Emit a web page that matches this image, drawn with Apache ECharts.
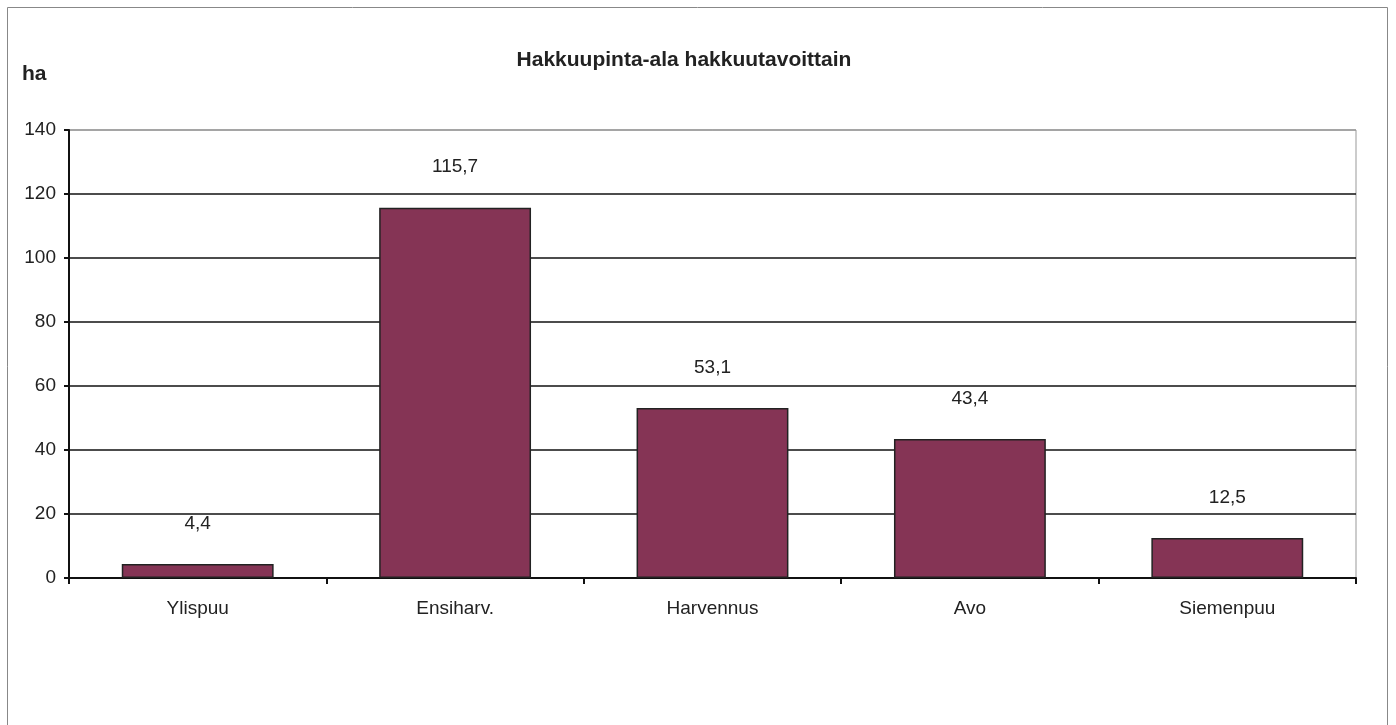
<!DOCTYPE html>
<html>
<head>
<meta charset="utf-8">
<script src="https://cdn.jsdelivr.net/npm/echarts@6/dist/echarts.min.js"></script>
<style>
  html, body { margin: 0; padding: 0; background: #fff; }
  #chart { width: 1396px; height: 725px; }
</style>
</head>
<body>
<div id="chart"></div>
<script>
// data
var categories = ['Ylispuu', 'Ensiharv.', 'Harvennus', 'Avo', 'Siemenpuu']
var values = [4.4, 115.7, 53.1, 43.4, 12.5]
var yTicks = { min: 0, max: 140, interval: 20 }

var myChart = echarts.init(document.getElementById('chart'))

var font = 'Liberation Sans, Arial, sans-serif'

var option = {
  animation: false,
  backgroundColor: '#fff',
  title: {
    text: 'Hakkuupinta-ala hakkuutavoittain',
    left: 679,
    textAlign: 'center',
    top: 45,
    textStyle: { fontFamily: font, fontSize: 21, fontWeight: 'bold', color: '#222' }
  },
  graphic: [
    {
      type: 'rect',
      shape: { x: 7.5, y: 7.5, width: 1380, height: 740 },
      style: { fill: 'none', stroke: '#888', lineWidth: 1 },
      silent: true
    },
    {
      type: 'text',
      left: 22,
      top: 64,
      style: { text: 'ha', font: 'bold 21px ' + font, fill: '#222' }
    }
  ],
  grid: {
    left: 69,
    right: 40,
    top: 130,
    bottom: 147,
    show: true,
    borderColor: '#999',
    borderWidth: 1
  },
  xAxis: {
    type: 'category',
    data: categories,
    axisLine: { lineStyle: { color: '#111', width: 2 } },
    axisTick: { show: true, length: 6, lineStyle: { color: '#111', width: 2 } },
    axisLabel: { fontFamily: font, fontSize: 19, color: '#222', margin: 21 }
  },
  yAxis: {
    type: 'value',
    min: yTicks.min,
    max: yTicks.max,
    interval: yTicks.interval,
    axisLine: { show: true, lineStyle: { color: '#111', width: 2 } },
    axisTick: { show: true, length: 5, lineStyle: { color: '#111', width: 2 } },
    axisLabel: { fontFamily: font, fontSize: 19, color: '#222', margin: 13 },
    splitLine: {
      show: true,
      lineStyle: {
        color: ['#111', '#111', '#111', '#111', '#111', '#111', '#111', '#999'],
        width: 1.5
      }
    }
  },
  series: [{
    type: 'bar',
    data: values,
    barCategoryGap: '41%',
    itemStyle: { color: '#853455', borderColor: '#222', borderWidth: 1.5 },
    label: {
      show: true,
      position: 'top',
      distance: 31,
      fontFamily: font,
      fontSize: 19,
      color: '#222',
      formatter: function (p) { return String(p.value).replace('.', ',') }
    }
  }]
}

myChart.setOption(option)
</script>
</body>
</html>
